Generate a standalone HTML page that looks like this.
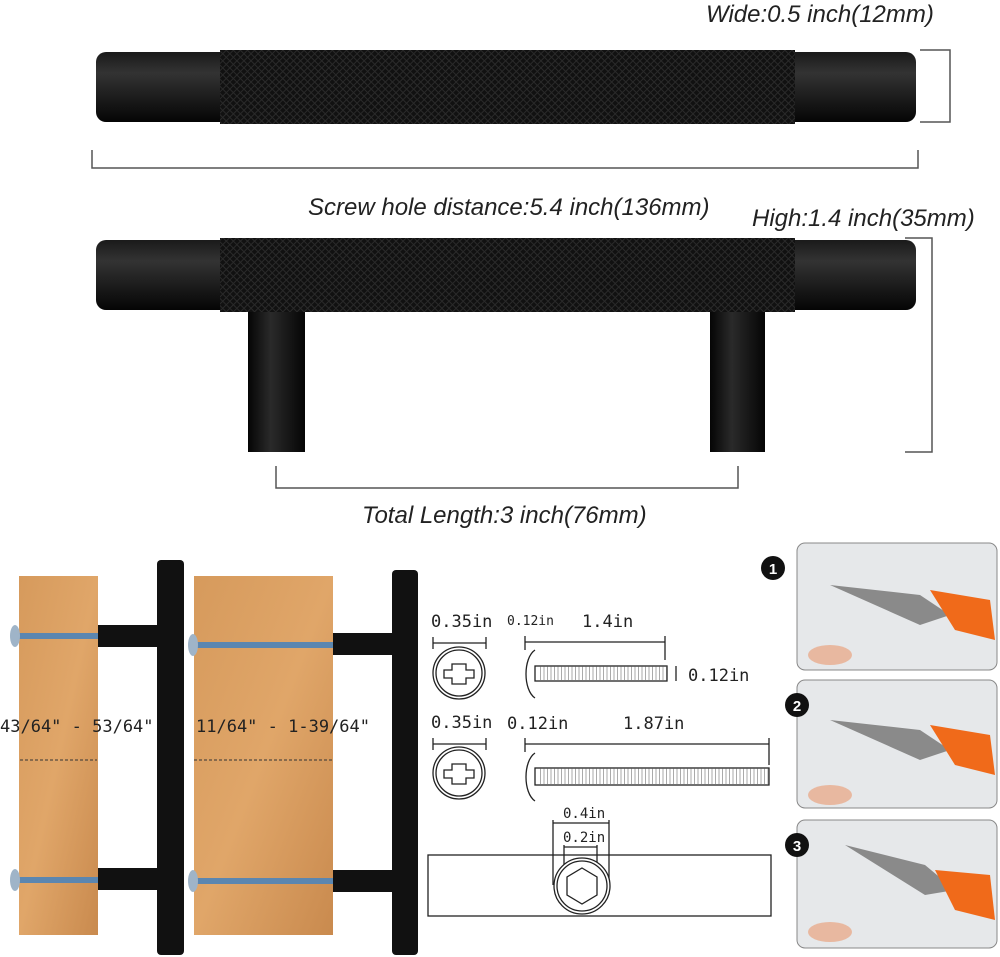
<!DOCTYPE html>
<html><head><meta charset="utf-8"><style>
body{margin:0;background:#fff}
svg{display:block}
.it{font-family:"Liberation Sans",sans-serif;font-style:italic;font-size:24px;fill:#222}
.m{font-family:"DejaVu Sans Mono","Liberation Mono",monospace;fill:#222}
</style></head><body>
<svg width="1000" height="957" viewBox="0 0 1000 957" xmlns="http://www.w3.org/2000/svg">
<defs>
<pattern id="kn" width="5" height="5" patternUnits="userSpaceOnUse" patternTransform="rotate(45)">
<rect width="5" height="5" fill="#111"/><rect width="1" height="5" fill="#2a2a2a"/><rect width="5" height="1" fill="#2a2a2a"/>
</pattern>
<linearGradient id="cap" x1="0" y1="0" x2="0" y2="1"><stop offset="0" stop-color="#1a1a1a"/><stop offset=".3" stop-color="#333"/><stop offset="1" stop-color="#050505"/></linearGradient>
<linearGradient id="wood" x1="0" y1="0" x2="1" y2="1"><stop offset="0" stop-color="#d69a5c"/><stop offset=".5" stop-color="#e0a669"/><stop offset="1" stop-color="#c98a4e"/></linearGradient>
<linearGradient id="leg" x1="0" y1="0" x2="1" y2="0"><stop offset="0" stop-color="#050505"/><stop offset=".4" stop-color="#2a2a2a"/><stop offset="1" stop-color="#050505"/></linearGradient>
</defs>
<!-- top bar -->
<rect x="96" y="52" width="820" height="70" rx="10" fill="url(#cap)"/>
<rect x="220" y="50" width="575" height="74" fill="url(#kn)"/>
<text class="it" x="706" y="22">Wide:0.5 inch(12mm)</text>
<path d="M920 50H950V122H920" fill="none" stroke="#555" stroke-width="1.5"/>
<path d="M92 150V168H918V150" fill="none" stroke="#555" stroke-width="1.5"/>
<text class="it" x="308" y="215">Screw hole distance:5.4 inch(136mm)</text>
<text class="it" x="752" y="226">High:1.4 inch(35mm)</text>
<!-- second bar -->
<rect x="248" y="290" width="57" height="162" fill="url(#leg)"/>
<rect x="710" y="290" width="55" height="162" fill="url(#leg)"/>
<rect x="96" y="240" width="820" height="70" rx="10" fill="url(#cap)"/>
<rect x="220" y="238" width="575" height="74" fill="url(#kn)"/>
<path d="M905 238H932V452H905" fill="none" stroke="#555" stroke-width="1.5"/>
<path d="M276 466V488H738V466" fill="none" stroke="#555" stroke-width="1.5"/>
<text class="it" x="362" y="523">Total Length:3 inch(76mm)</text>
<!-- wood -->
<rect x="19" y="576" width="79" height="359" fill="url(#wood)"/>
<rect x="194" y="576" width="139" height="359" fill="url(#wood)"/>
<rect x="98" y="625" width="62" height="22" fill="#111"/>
<rect x="98" y="868" width="62" height="22" fill="#111"/>
<rect x="157" y="560" width="27" height="395" rx="4" fill="#111"/>
<rect x="333" y="633" width="62" height="22" fill="#111"/>
<rect x="333" y="870" width="62" height="22" fill="#111"/>
<rect x="392" y="570" width="26" height="385" rx="4" fill="#111"/>
<g stroke="#5b86b0" stroke-width="6">
<line x1="16" y1="636" x2="98" y2="636"/><line x1="16" y1="880" x2="98" y2="880"/>
<line x1="192" y1="645" x2="333" y2="645"/><line x1="192" y1="881" x2="333" y2="881"/>
</g>
<g fill="#9fb4c8"><ellipse cx="15" cy="636" rx="5" ry="11"/><ellipse cx="15" cy="880" rx="5" ry="11"/><ellipse cx="193" cy="645" rx="5" ry="11"/><ellipse cx="193" cy="881" rx="5" ry="11"/></g>
<text class="m" x="0" y="732" font-size="17">43/64"  - 53/64"</text>
<text class="m" x="196" y="732" font-size="17">11/64" - 1-39/64"</text>
<line x1="20" y1="760" x2="97" y2="760" stroke="#333" stroke-dasharray="3 2"/>
<line x1="194" y1="760" x2="334" y2="760" stroke="#333" stroke-dasharray="3 2"/>
<!-- screws -->
<g fill="none" stroke="#222" stroke-width="1.3">
<text class="m" x="431" y="627" font-size="17" stroke="none">0.35in</text>
<line x1="433" y1="643" x2="486" y2="643"/><line x1="433" y1="637" x2="433" y2="649"/><line x1="486" y1="637" x2="486" y2="649"/>
<circle cx="459" cy="673" r="26"/><circle cx="459" cy="673" r="23"/>
<path d="M452 664h14v6h8v8h-8v6h-14v-6h-8v-8h8z" fill="#fff"/>
<text class="m" x="507" y="625" font-size="13" stroke="none">0.12in</text>
<text class="m" x="582" y="627" font-size="17" stroke="none">1.4in</text>
<line x1="525" y1="642" x2="665" y2="642"/><line x1="525" y1="636" x2="525" y2="650"/><line x1="665" y1="636" x2="665" y2="660"/>
<path d="M535 650c-12 8-12 40 0 48" /><rect x="535" y="666" width="132" height="15"/>
<line x1="540" y1="673" x2="667" y2="673" stroke-dasharray="1 2.5" stroke-width="14" stroke="#555" opacity=".5"/>
<text class="m" x="688" y="681" font-size="17" stroke="none">0.12in</text>
<line x1="676" y1="666" x2="676" y2="681"/>
<text class="m" x="431" y="728" font-size="17" stroke="none">0.35in</text>
<line x1="433" y1="744" x2="486" y2="744"/><line x1="433" y1="738" x2="433" y2="750"/><line x1="486" y1="738" x2="486" y2="750"/>
<circle cx="459" cy="773" r="26"/><circle cx="459" cy="773" r="23"/>
<path d="M452 764h14v6h8v8h-8v6h-14v-6h-8v-8h8z" fill="#fff"/>
<text class="m" x="507" y="729" font-size="17" stroke="none">0.12in</text>
<text class="m" x="623" y="729" font-size="17" stroke="none">1.87in</text>
<line x1="525" y1="744" x2="769" y2="744"/><line x1="525" y1="738" x2="525" y2="752"/><line x1="769" y1="738" x2="769" y2="765"/>
<path d="M535 753c-12 8-12 40 0 48"/><rect x="535" y="768" width="234" height="17"/>
<line x1="540" y1="776" x2="769" y2="776" stroke-dasharray="1 2.5" stroke-width="16" stroke="#555" opacity=".5"/>
<rect x="428" y="855" width="343" height="61"/>
<text class="m" x="563" y="818" font-size="14" stroke="none">0.4in</text>
<text class="m" x="563" y="842" font-size="14" stroke="none">0.2in</text>
<line x1="553" y1="820" x2="553" y2="885"/><line x1="609" y1="820" x2="609" y2="885"/><line x1="553" y1="823" x2="609" y2="823"/>
<line x1="564" y1="845" x2="564" y2="880"/><line x1="597" y1="845" x2="597" y2="880"/><line x1="564" y1="847" x2="597" y2="847"/>
<circle cx="582" cy="886" r="28" fill="#fff"/><circle cx="582" cy="886" r="25"/>
<path d="M582 868l15 9v18l-15 9l-15-9v-18z"/>
</g>
<!-- photos -->
<g>
<rect x="797" y="543" width="200" height="127" rx="8" fill="#e6e8ea" stroke="#888"/>
<rect x="797" y="680" width="200" height="128" rx="8" fill="#e6e8ea" stroke="#888"/>
<rect x="797" y="820" width="200" height="128" rx="8" fill="#e6e8ea" stroke="#888"/>
<path d="M830 585l90 10 30 20-30 10z" fill="#8a8a8a"/><path d="M930 590l60 10 5 40-40-10z" fill="#f06a1a"/>
<path d="M830 720l90 10 30 20-30 10z" fill="#8a8a8a"/><path d="M930 725l60 10 5 40-40-10z" fill="#f06a1a"/>
<path d="M845 845l80 20 30 25-30 5z" fill="#8a8a8a"/><path d="M935 870l55 5 5 45-40-10z" fill="#f06a1a"/>
<ellipse cx="830" cy="655" rx="22" ry="10" fill="#e8b8a0"/><ellipse cx="830" cy="795" rx="22" ry="10" fill="#e8b8a0"/><ellipse cx="830" cy="932" rx="22" ry="10" fill="#e8b8a0"/>
<circle cx="773" cy="568" r="12" fill="#111"/><circle cx="797" cy="705" r="12" fill="#111"/><circle cx="797" cy="845" r="12" fill="#111"/>
<g font-family="Liberation Sans,sans-serif" font-weight="bold" font-size="15" fill="#fff" text-anchor="middle">
<text x="773" y="574">1</text><text x="797" y="711">2</text><text x="797" y="851">3</text></g>
</g>
</svg>
</body></html>
